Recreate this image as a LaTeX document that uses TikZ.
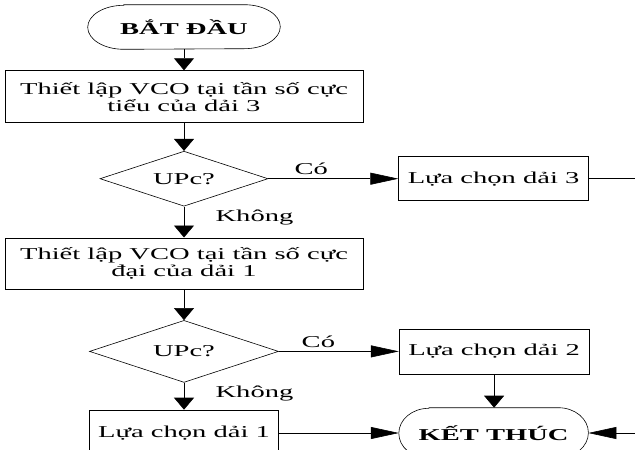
\documentclass[tikz,border=0pt]{standalone}
\usepackage{fontspec}
\setmainfont{Liberation Serif}[FakeStretch=1.72]
\usepackage{tikz}
\usetikzlibrary{shapes.geometric,arrows.meta,calc}
\usetikzlibrary{positioning}
\tikzstyle{startstop} = [rectangle, minimum width=192pt, minimum height=44pt, font=\fontsize{16.6pt}{17pt}\selectfont\bfseries]
\tikzstyle{process} = [rectangle, minimum width=358pt, minimum height=52pt, align=center, draw=black]
\tikzstyle{choice} = [rectangle, minimum width=190pt, minimum height=45pt, draw=black]
\tikzstyle{decision} = [diamond, aspect=3, inner sep=0pt, minimum width=168pt, minimum height=55pt, draw=black]
\tikzstyle{harrow} = [->, >={Triangle[length=28pt,width=12pt]}]
\tikzstyle{varrow} = [->, >={Triangle[length=12pt,width=20pt]}]
\begin{document}
\begin{tikzpicture}[x=1pt, y=1pt, line width=0.6pt, every node/.style={font=\fontsize{16.6pt}{17pt}\selectfont}]
    \path[use as bounding box, clip] (0,0) rectangle (635,-450);

    \node (start) [startstop] at (184,-27) {BẮT ĐẦU};
    \node (process1) [process, below=21pt of start] {Thiết lập VCO tại tần số cực\\tiểu của dải 3};
    \node (decision1) [decision, below=28pt of process1] {UPc?};
    \node (choice3) [choice, minimum height=44pt, right=130pt of decision1] {Lựa chọn dải 3};
    \node (process2) [process, minimum height=51pt, below=31pt of decision1] {Thiết lập VCO tại tần số cực\\đại của dải 1};
    \node (decision2) [decision, minimum width=189pt, minimum height=62pt, below=31pt of process2] {UPc?};
    \node (choice2) [choice, right=120pt of decision2] {Lựa chọn dải 2};
    \node (choice1) [choice, minimum width=189pt, minimum height=46pt, below=27pt of decision2] {Lựa chọn dải 1};
    \node (stop) [startstop, minimum width=189pt, minimum height=50pt, right=120pt of choice1] {KẾT THÚC};
    \coordinate (edge3) at ($(choice3.east)+(60pt,0)$);
    \coordinate (edge1) at ($(stop.east)+(60pt,0)$);

    \foreach \n/\rx/\ry in {start/36/22, stop/30/25}
        \draw ([xshift=\rx pt]\n.north west) -- ([xshift=-\rx pt]\n.north east)
        arc[start angle=90, end angle=-90, x radius=\rx pt, y radius=\ry pt]
        -- ([xshift=\rx pt]\n.south west)
        arc[start angle=270, end angle=90, x radius=\rx pt, y radius=\ry pt] -- cycle;

    \draw [varrow] (start)--(process1);
    \draw [varrow] (process1)--(decision1);
    \draw [harrow] (decision1)--(choice3) node[pos=0.33, above] {Có};
    \draw [varrow] (decision1)--(process2) node[pos=0.35, right, xshift=28pt] {Không};
    \draw (choice3)--(edge3);
    \draw [varrow] (process2)--(decision2);
    \draw [harrow] (decision2)--(choice2) node[pos=0.33, above] {Có};
    \draw [varrow] (decision2)--(choice1) node[pos=0.4, right, xshift=28pt] {Không};
    \draw [varrow] (choice2.south)--(choice2.south |- stop.north);
    \draw [harrow] (choice1)--(stop);
    \draw [harrow] (edge1)--(stop);

    \end{tikzpicture}
\end{document}
